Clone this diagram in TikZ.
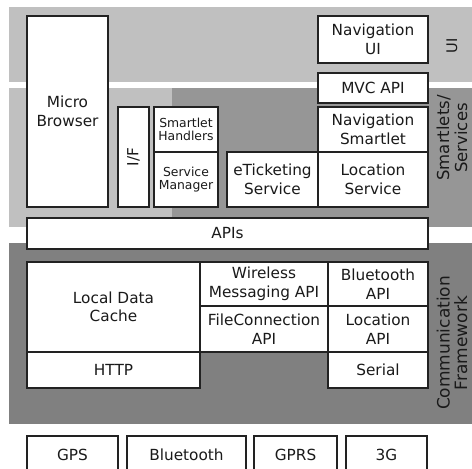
\documentclass[tikz,border=0pt]{standalone}
\usepackage{fontspec}
\setmainfont{DejaVu Sans}
\definecolor{bandlight}{HTML}{C0C0C0}
\definecolor{banddark}{HTML}{969696}
\definecolor{bandcomm}{HTML}{808080}
\definecolor{boxline}{HTML}{222222}
\definecolor{txt}{HTML}{1A1A1A}
\newcommand\mybox[7][]{\node[box,#1,minimum width={(#5-#3)*1pt},minimum height={(#6-#4)*1pt}] (#2) at ({(#3+#5)/2},{(#4+#6)/2}) {#7};}
\begin{document}
\begin{tikzpicture}[x=1pt,y=-1pt,
  box/.style={draw=boxline, line width=1.2pt, fill=white, inner sep=0pt, align=center,
    font=\fontsize{15.3}{18.5}\selectfont, text=txt},
  smalltext/.style={font=\fontsize{12.4}{13.6}\selectfont},
  lbl/.style={inner sep=0pt, align=center, text=txt, rotate=90}]
\useasboundingbox (0,0) rectangle (472,469);
\clip (0,0) rectangle (472,469);
% bands
\fill[bandlight] (9,7) rectangle (472,82);
\fill[bandlight] (9,88) rectangle (172,227);
\fill[banddark] (172,88) rectangle (472,227);
\fill[bandcomm] (9,243) rectangle (472,424);
% UI / smartlets
\mybox{mb}{27}{16}{108}{207}{Micro\\Browser}
\mybox{iface}{118}{107}{149}{207}{\rotatebox{90}{I/F}}
\mybox[smalltext]{sh}{154}{107}{218}{152}{Smartlet\\Handlers}
\mybox[smalltext]{sm}{154}{152}{218}{207}{Service\\Manager}
\mybox{et}{227}{152}{318}{207}{eTicketing\\Service}
\mybox{ls}{318}{152}{428}{207}{Location\\Service}
\mybox{ns}{318}{107}{428}{152}{Navigation\\Smartlet}
\mybox{mvc}{318}{73}{428}{103}{MVC API}
\mybox{nui}{318}{16}{428}{63}{Navigation\\UI}
\mybox{apis}{27}{218}{428}{249}{APIs}
% communication framework
\mybox{ldc}{27}{262}{200}{352}{Local Data\\Cache}
\mybox{wm}{200}{262}{328}{306}{Wireless\\Messaging API}
\mybox{fc}{200}{306}{328}{352}{FileConnection\\API}
\mybox{bt}{328}{262}{428}{306}{Bluetooth\\API}
\mybox{la}{328}{306}{428}{352}{Location\\API}
\mybox{http}{27}{352}{200}{388}{HTTP}
\mybox{ser}{328}{352}{428}{388}{Serial}
% hardware
\mybox{gps}{27}{436}{118}{474}{GPS}
\mybox{bth}{127}{436}{246}{474}{Bluetooth}
\mybox{gprs}{254}{436}{337}{474}{GPRS}
\mybox{g3}{346}{436}{427}{474}{3G}
% side labels
\node[lbl, font=\fontsize{14.6}{17}\selectfont] (uil) at (452,46) {UI};
\node[lbl, font=\fontsize{16.5}{18}\selectfont] (sl) at (452,138) {Smartlets/\\Services};
\node[lbl, font=\fontsize{17}{17.5}\selectfont] (cl) at (452,343) {Communication\\Framework};
\end{tikzpicture}
\end{document}
